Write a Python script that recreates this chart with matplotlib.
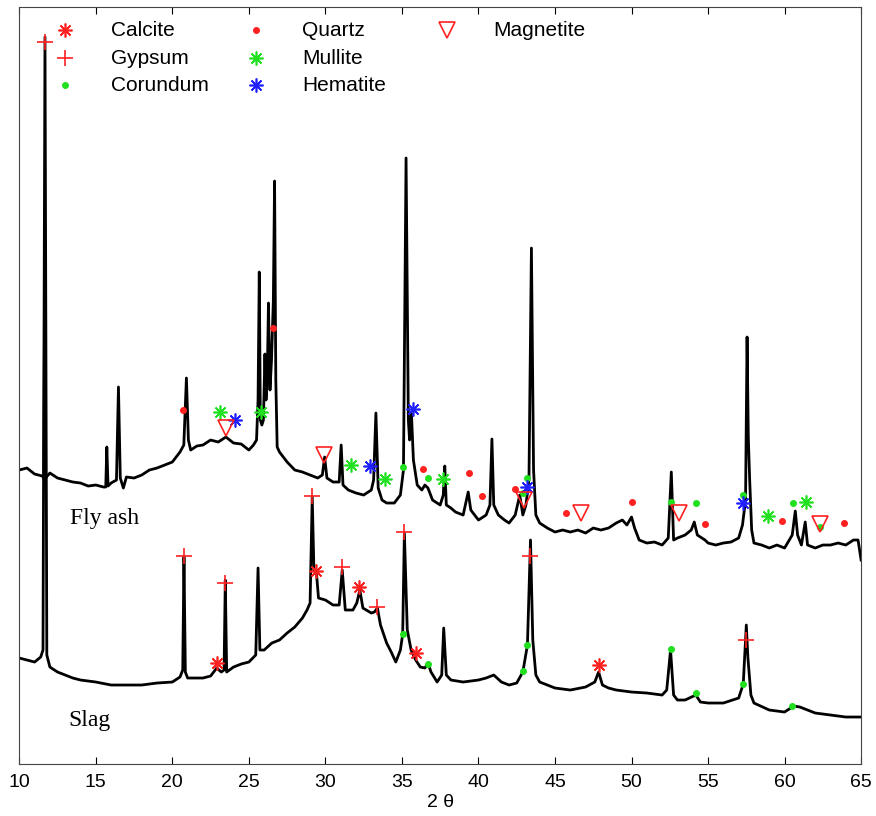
import matplotlib.pyplot as plt

# fly ash pattern (2 theta, intensity in arbitrary units)
fly_2theta = [10.0, 10.5, 11.0, 11.5, 11.6, 11.65, 11.72, 12.0, 12.5, 13.0, 13.5, 14.0, 14.5, 15.0,
              15.5, 15.65, 15.72, 15.8, 16.0, 16.35, 16.48, 16.6, 16.8, 17.0, 17.5, 18.0, 18.5, 19.0,
              19.5, 20.0, 20.5, 20.75, 20.92, 21.05, 21.2, 21.6, 22.0, 22.5, 23.0, 23.5, 24.0, 24.5,
              25.0, 25.3, 25.5, 25.6, 25.68, 25.75, 25.85, 25.95, 26.05, 26.12, 26.2, 26.28, 26.38,
              26.48, 26.6, 26.68, 26.76, 26.85, 27.0, 27.5, 28.0, 28.5, 29.0, 29.5, 29.8, 29.95, 30.1,
              30.5, 30.9, 31.03, 31.15, 31.5, 32.0, 32.5, 33.0, 33.15, 33.3, 33.45, 33.7, 34.0, 34.5,
              34.9, 35.1, 35.27, 35.42, 35.5, 35.62, 35.75, 36.0, 36.3, 36.5, 36.7, 37.0, 37.5, 37.7,
              37.8, 37.9, 38.2, 38.5, 39.0, 39.33, 39.5, 40.0, 40.5, 40.75, 40.88, 41.0, 41.3, 41.7,
              42.0, 42.4, 42.7, 42.9, 43.1, 43.3, 43.46, 43.6, 43.75, 44.0, 44.5, 45.0, 45.5, 46.0,
              46.5, 47.0, 47.5, 48.0, 48.5, 49.0, 49.4, 49.7, 50.0, 50.2, 50.5, 51.0, 51.5, 52.0,
              52.4, 52.6, 52.75, 53.0, 53.5, 53.9, 54.1, 54.3, 54.8, 55.0, 55.5, 56.0, 56.5, 57.0,
              57.25, 57.45, 57.55, 57.63, 57.72, 57.85, 58.0, 58.5, 59.0, 59.5, 60.0, 60.5, 60.7,
              60.85, 61.1, 61.35, 61.5, 62.0, 62.5, 63.0, 63.5, 64.0, 64.5, 64.8, 65.0]
fly_counts = [294, 296, 290, 288, 286, 448, 286, 291, 286, 284, 282, 281, 278, 279,
              277, 277, 317, 278, 281, 284, 377, 286, 276, 287, 286, 289, 294, 296,
              299, 302, 312, 319, 386, 324, 314, 318, 319, 324, 322, 327, 321, 320,
              314, 319, 324, 364, 492, 344, 339, 344, 410, 364, 384, 461, 374,
              404, 464, 583, 384, 317, 312, 302, 294, 292, 289, 286, 289, 307, 286,
              282, 282, 319, 279, 274, 271, 269, 274, 284, 351, 276, 264, 261, 261,
              269, 294, 606, 344, 324, 351, 304, 279, 274, 279, 276, 264, 259, 269,
              298, 259, 256, 252, 249, 272, 254, 244, 249, 259, 325, 259, 249, 244,
              241, 249, 269, 249, 259, 284, 516, 294, 249, 241, 236, 232, 234, 232,
              234, 231, 236, 234, 236, 241, 244, 239, 247, 236, 224, 221, 222, 219,
              226, 292, 224, 226, 229, 234, 242, 229, 224, 221, 219, 221, 222, 226,
              239, 264, 427, 327, 284, 234, 221, 219, 216, 219, 216, 229, 253,
              229, 219, 242, 219, 216, 219, 219, 221, 219, 224, 224, 204]

# slag pattern
slag_2theta = [10.0, 10.5, 11.0, 11.4, 11.55, 11.68, 11.8, 12.0, 12.5, 13.0, 13.5, 14.0, 15.0, 16.0,
               17.0, 18.0, 19.0, 20.0, 20.5, 20.68, 20.76, 20.85, 21.0, 22.0, 22.5, 22.9, 23.2, 23.38,
               23.46, 23.55, 24.0, 24.5, 25.0, 25.45, 25.6, 25.72, 26.0, 26.5, 27.0, 27.5, 28.0, 28.5,
               28.8, 29.0, 29.14, 29.25, 29.4, 29.55, 30.0, 30.5, 30.9, 31.1, 31.3, 31.8, 32.05, 32.25,
               32.45, 33.0, 33.2, 33.4, 33.6, 34.0, 34.3, 34.6, 34.9, 35.05, 35.16, 35.35, 35.6, 35.9,
               36.2, 36.5, 36.7, 36.9, 37.3, 37.6, 37.73, 37.9, 38.2, 39.0, 40.0, 40.5, 41.0, 41.5,
               42.0, 42.5, 42.9, 43.2, 43.4, 43.55, 43.75, 44.0, 45.0, 46.0, 47.0, 47.6, 47.85, 48.1,
               48.5, 49.0, 50.0, 51.0, 52.0, 52.3, 52.55, 52.75, 53.0, 53.5, 54.2, 54.5, 55.0, 56.0,
               57.0, 57.3, 57.5, 57.6, 57.8, 58.0, 59.0, 60.0, 60.6, 61.0, 62.0, 63.0, 64.0, 65.0]
slag_counts = [106, 104, 102, 107, 114, 727, 109, 97, 92, 89, 86, 84, 82, 79,
               79, 79, 81, 82, 87, 94, 207, 92, 86, 86, 88, 96, 92, 94,
               184, 92, 97, 100, 102, 109, 196, 114, 114, 121, 124, 131, 137, 146,
               154, 161, 267, 194, 194, 166, 164, 159, 159, 194, 154, 154, 161, 174,
               156, 151, 152, 156, 139, 121, 112, 102, 114, 130, 231, 134, 114, 104,
               97, 96, 101, 92, 82, 89, 136, 89, 84, 82, 84, 86, 89, 82,
               79, 81, 92, 119, 224, 124, 89, 82, 76, 74, 77, 82, 92, 79,
               76, 74, 72, 71, 69, 74, 114, 69, 64, 64, 69, 62, 61, 61,
               66, 80, 139, 107, 69, 61, 54, 52, 58, 57, 51, 49, 47, 47]

# phase markers
calcite_2theta = [22.9, 29.4, 32.2, 35.9, 47.85]
calcite_counts = [101, 193, 177, 111, 99]
gypsum_2theta = [11.68, 20.76, 23.46, 29.14, 31.1, 33.4, 35.16, 43.4, 57.45]
gypsum_counts = [722, 208, 181, 268, 197, 157, 232, 208, 124]
corundum_2theta = [35.05, 36.7, 42.9, 43.2, 52.55, 54.2, 57.3, 60.55, 62.3,
                   35.05, 36.7, 42.9, 43.2, 52.55, 54.2, 57.3, 60.5]
corundum_counts = [297, 286, 271, 286, 262, 261, 269, 261, 237,
                   130, 100, 93, 119, 115, 71, 80, 58]
quartz_2theta = [20.7, 26.55, 36.4, 39.4, 40.2, 42.4, 45.7, 50.0, 54.8, 59.8, 63.9]
quartz_counts = [354, 436, 295, 291, 268, 275, 251, 262, 240, 243, 241]
mullite_2theta = [23.1, 25.8, 31.7, 33.9, 37.66, 58.9, 61.4]
mullite_counts = [352, 352, 299, 285, 285, 248, 262]
hematite_2theta = [24.07, 32.9, 35.7, 43.2, 57.3]
hematite_counts = [344, 298, 355, 277, 261]
magnetite_2theta = [23.5, 29.9, 43.0, 46.7, 53.1, 62.3]
magnetite_counts = [336, 309, 264, 251, 251, 240]

RED = '#ff2020'
GREEN = '#20e020'
BLUE = '#2020ff'
STAR = (8, 2, 0)

phases = [
    ('Calcite', calcite_2theta, calcite_counts, dict(marker=STAR, ms=10, mec=RED, mew=1.2)),
    ('Gypsum', gypsum_2theta, gypsum_counts, dict(marker='+', ms=12, mec=RED, mew=1.2)),
    ('Corundum', corundum_2theta, corundum_counts, dict(marker='o', ms=4, color=GREEN)),
    ('Quartz', quartz_2theta, quartz_counts, dict(marker='o', ms=4, color=RED)),
    ('Mullite', mullite_2theta, mullite_counts, dict(marker=STAR, ms=10, mec=GREEN, mew=1.2)),
    ('Hematite', hematite_2theta, hematite_counts, dict(marker=STAR, ms=10, mec=BLUE, mew=1.2)),
    ('Magnetite', magnetite_2theta, magnetite_counts,
     dict(marker='v', ms=11, mfc='none', mec=RED, mew=1.2)),
]
# legend slots in axes fraction (column x of marker, row y)
legend_slots = [(0.0543, 0.9696), (0.0543, 0.9326), (0.0543, 0.8969),
                (0.2812, 0.9696), (0.2812, 0.9326), (0.2812, 0.8969),
                (0.5081, 0.9696)]

plt.rcParams['font.family'] = ['Liberation Sans', 'DejaVu Sans']

fig = plt.figure(figsize=(8.76, 8.16), dpi=100)
ax = fig.add_axes([0.022, 0.0637, 0.961, 0.9277])

ax.plot(fly_2theta, fly_counts, color='black', lw=2.0)
ax.plot(slag_2theta, slag_counts, color='black', lw=2.0)

for (name, xs, ys, style), (lx, ly) in zip(phases, legend_slots):
    ax.plot(xs, ys, ls='none', **style)
    ax.plot([lx], [ly], ls='none', transform=ax.transAxes, clip_on=False, **style)
    ax.text(lx + 0.0546, ly, name, transform=ax.transAxes, fontsize=15, va='center')

ax.text(13.3, 246, 'Fly ash', family='Liberation Serif', fontsize=17, va='center')
ax.text(13.2, 44, 'Slag', family='Liberation Serif', fontsize=17, va='center')

ax.set_xlim(10, 65)
ax.set_ylim(0, 757)
ax.set_xticks(range(10, 66, 5))
ax.set_yticks([])
ax.tick_params(axis='x', direction='in', top=True, length=5, labelsize=14, pad=7)
ax.set_xlabel('2 θ', fontsize=14, labelpad=2)
for s in ax.spines.values():
    s.set_color('#444444')

fig.savefig('out.png', dpi=100)
